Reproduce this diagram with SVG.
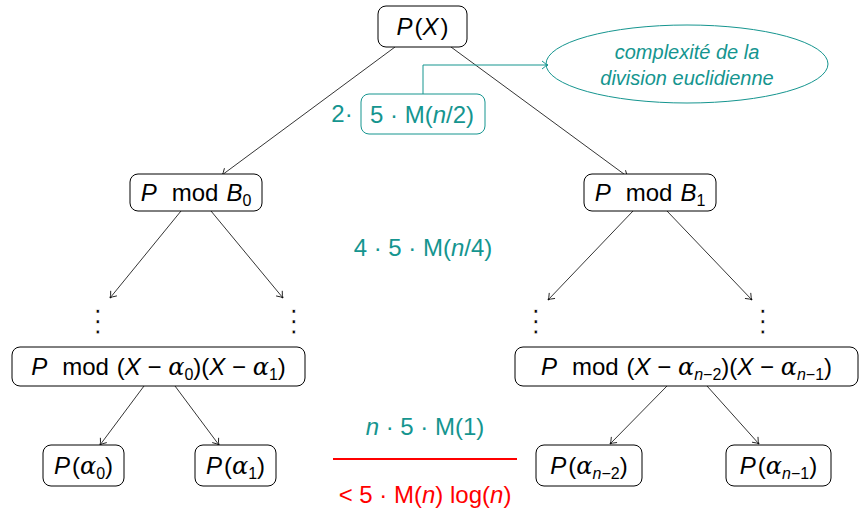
<svg xmlns="http://www.w3.org/2000/svg" width="860" height="509" viewBox="0 0 860 509">
<style>
.box{fill:#fff;stroke:#000;stroke-width:1}
.t{font-family:"Liberation Sans",Arial,sans-serif;font-size:24px;fill:#000;text-anchor:middle}
.i{font-style:italic}
.g{font-family:"DejaVu Serif","Liberation Serif",serif;font-style:italic}
.sub{font-size:16px}
.tl{fill:#15958f}
.rd{fill:#ff0000}
.dots{font-family:"DejaVu Sans",sans-serif;font-size:30px;text-anchor:middle;fill:#000;stroke:#fff;stroke-width:0.7;paint-order:fill}
.conn line{stroke:#000;stroke-width:0.8;marker-end:url(#arr)}
</style>
<defs>
<marker id="arr" markerUnits="userSpaceOnUse" markerWidth="12" markerHeight="12" refX="0" refY="0" viewBox="-7 -6 8 12" orient="auto" overflow="visible">
<path d="M-6,-4 Q-2,-0.5 0,0 Q-2,0.5 -6,4" fill="none" stroke="#000" stroke-width="0.8"/>
</marker>
<marker id="arrT" markerUnits="userSpaceOnUse" markerWidth="12" markerHeight="12" refX="0" refY="0" viewBox="-7 -6 8 12" orient="auto" overflow="visible">
<path d="M-6,-4 Q-2,-0.5 0,0 Q-2,0.5 -6,4" fill="none" stroke="#15958f" stroke-width="1"/>
</marker>
</defs>

<g id="conns" class="conn">
<line x1="395" y1="47" x2="222" y2="175"/>
<line x1="451" y1="47" x2="628" y2="177"/>
<line x1="181" y1="211" x2="110" y2="298"/>
<line x1="211" y1="211" x2="283" y2="298"/>
<line x1="633" y1="211" x2="548" y2="300"/>
<line x1="667" y1="211" x2="752" y2="300"/>
<line x1="144" y1="386" x2="100" y2="445"/>
<line x1="175" y1="386" x2="219" y2="445"/>
<line x1="667" y1="386" x2="610" y2="444"/>
<line x1="707" y1="386" x2="759" y2="444"/>
</g>

<g id="n-root">
<rect class="box" x="378" y="6" width="89" height="41" rx="8"/>
<text class="t" x="422.5" y="35"><tspan class="i">P</tspan><tspan dx="2">(</tspan><tspan class="i">X</tspan><tspan dx="2">)</tspan></text>
</g>

<g id="n-b0">
<rect class="box" x="130" y="174" width="132" height="37" rx="8"/>
<text class="t" x="196" y="201"><tspan class="i">P</tspan><tspan dx="15">mod</tspan><tspan class="i" dx="8">B</tspan><tspan class="sub" dy="5">0</tspan></text>
</g>

<g id="n-b1">
<rect class="box" x="584" y="174" width="132" height="37" rx="8"/>
<text class="t" x="650" y="201"><tspan class="i">P</tspan><tspan dx="15">mod</tspan><tspan class="i" dx="8">B</tspan><tspan class="sub" dy="5">1</tspan></text>
</g>

<g id="dots">
<text class="dots" x="98" y="331">⋮</text>
<text class="dots" x="294" y="331">⋮</text>
<text class="dots" x="536" y="331">⋮</text>
<text class="dots" x="763" y="331">⋮</text>
</g>

<g id="n-l2">
<rect class="box" x="12" y="347" width="293" height="39" rx="8"/>
<text class="t" x="158.5" y="375"><tspan class="i">P</tspan><tspan dx="15">mod</tspan><tspan dx="8">(</tspan><tspan class="i">X</tspan> − <tspan class="g">α</tspan><tspan class="sub" dy="5">0</tspan><tspan dy="-5">)(</tspan><tspan class="i">X</tspan> − <tspan class="g">α</tspan><tspan class="sub" dy="5">1</tspan><tspan dy="-5">)</tspan></text>
</g>

<g id="n-r2">
<rect class="box" x="515" y="347" width="343" height="39" rx="8"/>
<text class="t" x="686.5" y="375"><tspan class="i">P</tspan><tspan dx="15">mod</tspan><tspan dx="8">(</tspan><tspan class="i">X</tspan> − <tspan class="g">α</tspan><tspan class="sub" dy="5"><tspan class="i">n</tspan>−2</tspan><tspan dy="-5">)(</tspan><tspan class="i">X</tspan> − <tspan class="g">α</tspan><tspan class="sub" dy="5"><tspan class="i">n</tspan>−1</tspan><tspan dy="-5">)</tspan></text>
</g>

<g id="n-a0">
<rect class="box" x="43" y="445" width="81" height="41" rx="8"/>
<text class="t" x="83.5" y="474"><tspan class="i">P</tspan><tspan dx="2">(</tspan><tspan class="g">α</tspan><tspan class="sub" dy="5">0</tspan><tspan dy="-5">)</tspan></text>
</g>

<g id="n-a1">
<rect class="box" x="195" y="445" width="81" height="41" rx="8"/>
<text class="t" x="235.5" y="474"><tspan class="i">P</tspan><tspan dx="2">(</tspan><tspan class="g">α</tspan><tspan class="sub" dy="5">1</tspan><tspan dy="-5">)</tspan></text>
</g>

<g id="n-an2">
<rect class="box" x="536" y="445" width="106" height="41" rx="8"/>
<text class="t" x="589" y="474"><tspan class="i">P</tspan><tspan dx="2">(</tspan><tspan class="g">α</tspan><tspan class="sub" dy="5"><tspan class="i">n</tspan>−2</tspan><tspan dy="-5">)</tspan></text>
</g>

<g id="n-an1">
<rect class="box" x="726" y="445" width="105" height="41" rx="8"/>
<text class="t" x="778.5" y="474"><tspan class="i">P</tspan><tspan dx="2">(</tspan><tspan class="g">α</tspan><tspan class="sub" dy="5"><tspan class="i">n</tspan>−1</tspan><tspan dy="-5">)</tspan></text>
</g>

<g id="cost1">
<text class="t tl" x="342" y="122">2·</text>
<rect x="361" y="94" width="124" height="40" rx="8" fill="none" stroke="#15958f" stroke-width="1"/>
<text class="t tl" x="422" y="123">5 · M(<tspan class="i">n</tspan>/2)</text>
</g>

<g id="note-conn">
<path d="M423,94 V65 H548" fill="none" stroke="#15958f" stroke-width="1" marker-end="url(#arrT)"/>
</g>

<g id="note">
<ellipse cx="687" cy="64" rx="141" ry="39" fill="none" stroke="#15958f" stroke-width="1"/>
<text class="t tl i" x="687" y="59" style="font-size:20px">complexité de la</text>
<text class="t tl i" x="687" y="85" style="font-size:20px">division euclidienne</text>
</g>

<g id="cost2">
<text class="t tl" x="423" y="256">4 · 5 · M(<tspan class="i">n</tspan>/4)</text>
</g>

<g id="cost3">
<text class="t tl" x="425" y="435"><tspan class="i">n</tspan> · 5 · M(1)</text>
<line x1="333" y1="459" x2="517" y2="459" stroke="#ff0000" stroke-width="2"/>
<text class="t rd" x="425" y="503">&lt; 5 · M(<tspan class="i">n</tspan>) log(<tspan class="i">n</tspan>)</text>
</g>
</svg>
